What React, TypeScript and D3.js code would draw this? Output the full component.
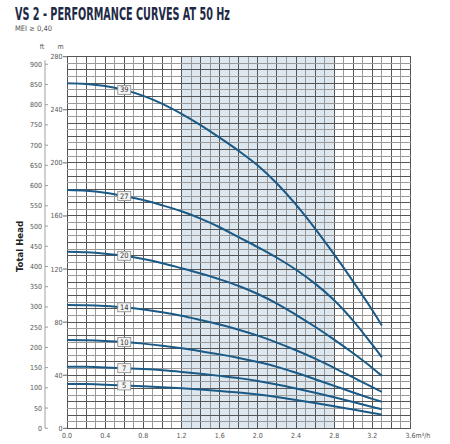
import React from "react";
import * as d3 from "d3";

// flow points (m3/h) at which the curves were read
const flow = [0, 0.2, 0.4, 0.6, 0.8, 1.0, 1.2, 1.4, 1.6, 1.8, 2.0, 2.2, 2.4, 2.6, 2.8, 3.0, 3.2, 3.3];

const head39 = [260, 259.5, 258, 255, 250.5, 244.5, 237, 228.5, 219, 209, 198, 184.5, 168.5, 150.5, 131, 110.5, 89, 77.5];
const head27 = [179.5, 179, 177.5, 175, 172, 168, 163.5, 158, 151.5, 144, 136.5, 128.5, 119.5, 109, 96.5, 81, 63, 53.5];
const head20 = [133, 132.6, 131.6, 130, 127.6, 124.4, 120.6, 116.6, 112.2, 107.2, 101.2, 94, 85.5, 76.5, 66.8, 56.5, 45.5, 39.5];
const head14 = [93, 92.8, 92.2, 91.2, 89.6, 87.4, 84.8, 81.6, 78.2, 74.3, 69.8, 64.6, 58.8, 52.5, 45.6, 38.3, 31, 27.5];
const head10 = [66.5, 66.3, 65.8, 65, 63.8, 62.2, 60.3, 58.1, 55.7, 53, 49.9, 46.3, 41.8, 37, 32, 27, 22.2, 20];
const head7 = [46.4, 46.3, 45.9, 45.3, 44.6, 43.7, 42.5, 41.1, 39.5, 37.8, 35.6, 33, 30, 26.8, 23.4, 19.8, 16.1, 14.3];
const head5 = [33.4, 33.3, 32.9, 32.3, 31.7, 31, 30.2, 29.2, 28.1, 26.9, 25.4, 23.5, 21.3, 19, 16.6, 14.1, 11.6, 10.3];

const stages = ["39", "27", "20", "14", "10", "7", "5"];
const heads = [head39, head27, head20, head14, head10, head7, head5];

const xTicks = [0, 0.4, 0.8, 1.2, 1.6, 2.0, 2.4, 2.8, 3.2, 3.6];
const mTicks = [0, 40, 80, 120, 160, 200, 240, 280];
const ftTicks = d3.range(0, 901, 50);
const band = [1.2, 2.8];
const labelFlow = 0.6;

const width = 450;
const height = 444;
const marginLeft = 67;
const marginRight = 39.5;
const marginTop = 56.7;
const marginBottom = 15.7;

const FT_PER_M = 3.28084;
const lineColor = "#1b5a86";
const textGray = "#555";
const font = "'DejaVu Sans Condensed', 'DejaVu Sans', sans-serif";

export default function App() {
  const x = d3.scaleLinear().domain([0, 3.6]).range([marginLeft, width - marginRight]);
  const y = d3.scaleLinear().domain([0, 280]).range([height - marginBottom, marginTop]);

  const line = d3
    .line<number>()
    .x((_, i) => x(flow[i]))
    .y((d) => y(d))
    .curve(d3.curveCatmullRom);

  const vLines = d3.range(0, 37).map((i) => i / 10);
  const hLines = d3.range(0, 57).map((i) => i * 5);

  const x0 = x(0);
  const x1 = x(3.6);
  const y0 = y(0);
  const y1 = y(280);
  const ftAxisX = 45;

  return (
    <svg width={width} height={height} style={{ position: "absolute", left: 0, top: 0 }}>
      <rect width={width} height={height} fill="#fff" />

      <text
        x={15}
        y={20}
        fontFamily={font}
        fontWeight="bold"
        fontSize={18}
        fill="#1e2a45"
        textLength={215}
        lengthAdjust="spacingAndGlyphs"
      >
        VS 2 - PERFORMANCE CURVES AT 50 Hz
      </text>
      <text x={15} y={31} fontFamily={font} fontSize={7.5} fill={textGray}>
        MEI ≥ 0,40
      </text>

      {/* shaded operating band */}
      <rect x={x(band[0])} y={y1} width={x(band[1]) - x(band[0])} height={y0 - y1} fill="#dce7f0" />

      {/* grid */}
      <g shapeRendering="crispEdges">
        {vLines.map((v, i) => (
          <line
            key={"v" + i}
            x1={x(v)}
            x2={x(v)}
            y1={y1}
            y2={y0}
            stroke={i % 2 === 0 ? "#555" : "#999"}
            strokeWidth={1}
          />
        ))}
        {hLines.map((h, i) => (
          <line
            key={"h" + i}
            x1={x0}
            x2={x1}
            y1={y(h)}
            y2={y(h)}
            stroke={i % 2 === 0 ? "#555" : "#999"}
            strokeWidth={1}
          />
        ))}
      </g>

      {/* curves */}
      {heads.map((h, i) => (
        <path key={stages[i]} d={line(h) as string} fill="none" stroke={lineColor} strokeWidth={2} />
      ))}

      {/* stage labels */}
      {heads.map((h, i) => {
        const li = flow.indexOf(labelFlow);
        const cx = x(labelFlow);
        const cy = y(h[li]);
        return (
          <g key={"lab" + stages[i]}>
            <rect x={cx - 6.5} y={cy - 4.5} width={13} height={9} fill="#f4f4f4" stroke="#888" strokeWidth={0.8} />
            <text x={cx} y={cy + 2.6} textAnchor="middle" fontFamily={font} fontSize={7.5} fill="#333">
              {stages[i]}
            </text>
          </g>
        );
      })}

      {/* x axis labels */}
      {xTicks.map((t) => (
        <text key={"xt" + t} x={x(t)} y={y0 + 10} textAnchor="middle" fontFamily={font} fontSize={7} fill={textGray}>
          {t.toFixed(1)}
        </text>
      ))}
      <text x={x1 + 5} y={y0 + 10} fontFamily={font} fontSize={7} fill={textGray}>
        m³/h
      </text>

      {/* m axis */}
      {mTicks.map((t) => (
        <g key={"m" + t}>
          <line x1={x0 - 4} x2={x0} y1={y(t)} y2={y(t)} stroke="#666" />
          <text x={x0 - 4.5} y={y(t) + 2.5} textAnchor="end" fontFamily={font} fontSize={7} fill={textGray}>
            {t}
          </text>
        </g>
      ))}
      <text x={60.5} y={49} textAnchor="middle" fontFamily={font} fontSize={7} fill={textGray}>
        m
      </text>

      {/* ft axis */}
      <line x1={ftAxisX} x2={ftAxisX} y1={y(900 / FT_PER_M) - 4} y2={y0} stroke="#888" strokeWidth={0.8} />
      {ftTicks.map((t) => (
        <g key={"ft" + t}>
          <line x1={ftAxisX} x2={ftAxisX + 3} y1={y(t / FT_PER_M)} y2={y(t / FT_PER_M)} stroke="#888" strokeWidth={0.8} />
          <text
            x={ftAxisX - 3}
            y={y(t / FT_PER_M) + 2.5}
            textAnchor="end"
            fontFamily={font}
            fontSize={7}
            fill={textGray}
          >
            {t}
          </text>
        </g>
      ))}
      <text x={42} y={49} textAnchor="middle" fontFamily={font} fontSize={7} fill={textGray}>
        ft
      </text>

      <text
        transform={`translate(23,${(y0 + y1) / 2 + 4}) rotate(-90)`}
        textAnchor="middle"
        fontFamily={font}
        fontWeight="bold"
        fontSize={9.5}
        fill="#222"
      >
        Total Head
      </text>
    </svg>
  );
}
